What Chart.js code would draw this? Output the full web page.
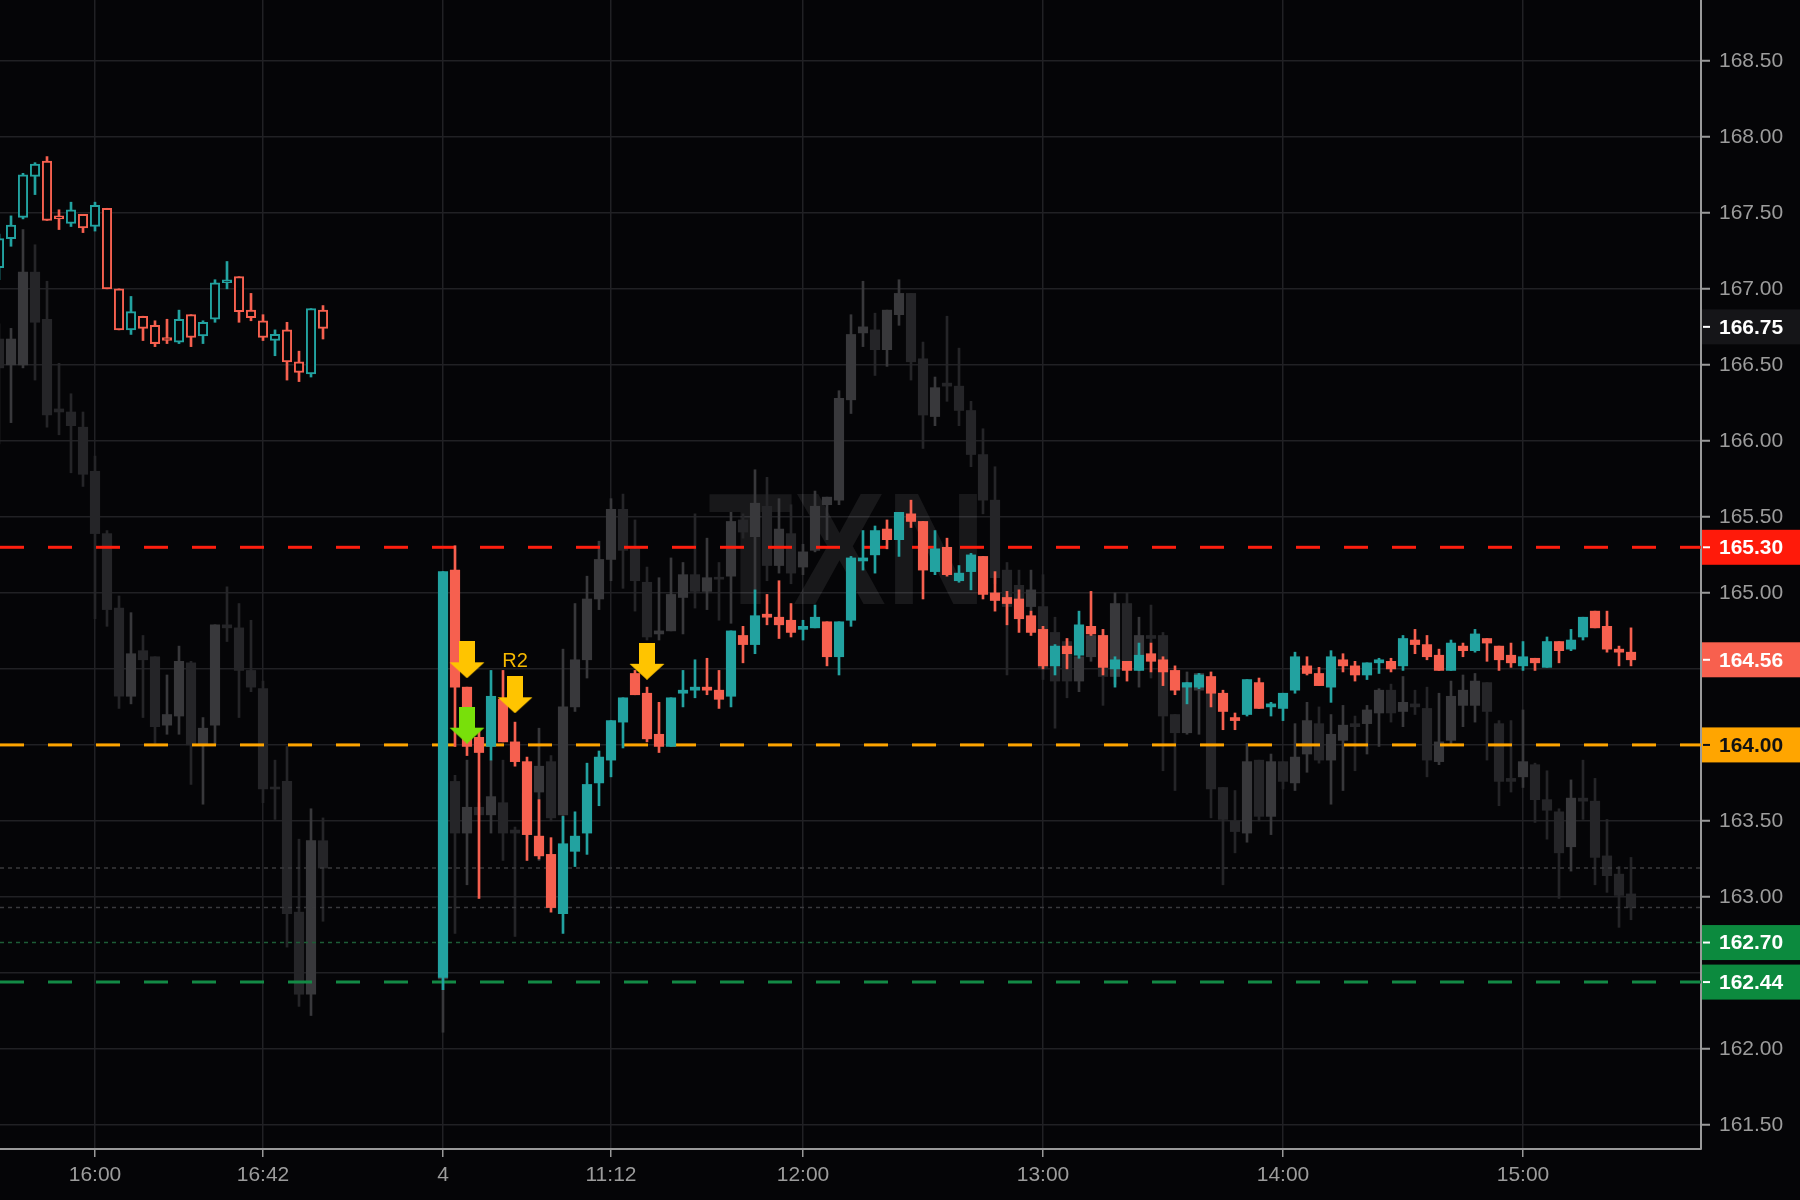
<!DOCTYPE html>
<html>
<head>
<meta charset="utf-8">
<title>TXN 3m</title>
<script src="https://cdn.jsdelivr.net/npm/chart.js@4.4.1/dist/chart.umd.min.js"></script>
<style>
  html, body { margin: 0; padding: 0; background: #050507; }
  #wrap { width: 1800px; height: 1200px; }
</style>
</head>
<body>
<div id="wrap"><canvas id="priceChart" width="1800" height="1200"></canvas></div>
<script>
// 3-minute bars, one slot per bar; null = no bar in that slot
const cOpen = [
  167.14, 167.33, 167.47, 167.74, 167.84, 167.48, 167.43, 167.49, 167.41, 167.53,
  167.00, 166.73, 166.82, 166.76, 166.68, 166.65, 166.83, 166.69, 166.80, 167.04,
  167.08, 166.86, 166.79, 166.66, 166.73, 166.52, 166.44, 166.86,
  null, null, null, null, null, null, null, null, null,
  162.47, 165.15, 164.38, 164.05, 163.99, 164.30, 164.02, 163.89, 163.40, 163.28,
  162.89, 163.30, 163.42, 163.75, 163.90, 164.15, 164.47, 164.34, 164.07, 163.99,
  164.34, 164.36, 164.38, 164.36, 164.32, 164.72, 164.66, 164.86, 164.84, 164.82,
  164.76, 164.77, 164.81, 164.58, 164.82, 165.21, 165.25, 165.42, 165.35, 165.52,
  165.47, 165.14, 165.30, 165.08, 165.14, 165.24, 165.00, 164.97, 164.96, 164.85,
  164.76, 164.52, 164.65, 164.59, 164.78, 164.72, 164.50, 164.55, 164.49, 164.60,
  164.56, 164.49, 164.38, 164.38, 164.45, 164.34, 164.18, 164.20, 164.41, 164.25,
  164.24, 164.36, 164.52, 164.47, 164.38, 164.56, 164.52, 164.46, 164.54, 164.55,
  164.52, 164.69, 164.66, 164.59, 164.49, 164.65, 164.62, 164.70, 164.65, 164.59,
  164.52, 164.57, 164.51, 164.68, 164.63, 164.71, 164.88, 164.78, 164.63, 164.61
];
const cHigh = [
  167.36, 167.48, 167.76, 167.83, 167.87, 167.52, 167.57, 167.49, 167.57, 167.53,
  167.00, 166.95, 166.82, 166.79, 166.80, 166.86, 166.83, 166.79, 167.06, 167.18,
  167.08, 166.97, 166.83, 166.73, 166.78, 166.59, 166.87, 166.89,
  null, null, null, null, null, null, null, null, null,
  165.14, 165.31, 164.38, 164.10, 164.49, 164.49, 164.15, 163.92, 163.64, 163.39,
  163.53, 163.56, 163.88, 163.96, 164.16, 164.31, 164.49, 164.38, 164.28, 164.31,
  164.49, 164.56, 164.57, 164.49, 164.75, 164.78, 165.02, 164.99, 165.08, 164.93,
  164.82, 164.92, 164.81, 164.81, 165.24, 165.41, 165.44, 165.48, 165.53, 165.61,
  165.47, 165.41, 165.36, 165.18, 165.26, 165.24, 165.14, 165.01, 165.02, 164.88,
  164.78, 164.66, 164.70, 164.88, 165.01, 164.76, 164.58, 164.55, 164.67, 164.67,
  164.58, 164.52, 164.41, 164.47, 164.48, 164.36, 164.21, 164.43, 164.44, 164.28,
  164.34, 164.61, 164.58, 164.51, 164.62, 164.60, 164.55, 164.54, 164.57, 164.57,
  164.72, 164.76, 164.72, 164.63, 164.69, 164.67, 164.76, 164.70, 164.65, 164.67,
  164.68, 164.57, 164.71, 164.68, 164.76, 164.84, 164.88, 164.88, 164.65, 164.77
];
const cLow = [
  167.06, 167.28, 167.46, 167.62, 167.45, 167.39, 167.41, 167.37, 167.38, 167.00,
  166.73, 166.70, 166.66, 166.62, 166.64, 166.64, 166.62, 166.64, 166.78, 167.00,
  166.78, 166.79, 166.66, 166.56, 166.40, 166.39, 166.42, 166.67,
  null, null, null, null, null, null, null, null, null,
  162.39, 163.99, 163.93, 162.99, 163.90, 164.02, 163.86, 163.24, 163.25, 162.90,
  162.76, 163.20, 163.28, 163.60, 163.79, 163.98, 164.33, 164.02, 163.95, 163.99,
  164.25, 164.31, 164.33, 164.24, 164.25, 164.54, 164.60, 164.79, 164.70, 164.71,
  164.69, 164.77, 164.52, 164.46, 164.78, 165.15, 165.13, 165.29, 165.24, 165.43,
  164.96, 165.12, 165.11, 165.07, 165.02, 164.96, 164.88, 164.79, 164.74, 164.72,
  164.50, 164.46, 164.50, 164.57, 164.72, 164.46, 164.38, 164.42, 164.49, 164.48,
  164.39, 164.33, 164.27, 164.37, 164.25, 164.10, 164.10, 164.19, 164.24, 164.19,
  164.16, 164.34, 164.46, 164.39, 164.28, 164.48, 164.42, 164.43, 164.47, 164.48,
  164.49, 164.60, 164.56, 164.49, 164.49, 164.58, 164.61, 164.55, 164.49, 164.51,
  164.49, 164.49, 164.51, 164.54, 164.62, 164.69, 164.77, 164.61, 164.52, 164.52
];
const cClose = [
  167.33, 167.42, 167.75, 167.82, 167.45, 167.46, 167.52, 167.40, 167.55, 167.00,
  166.73, 166.85, 166.74, 166.64, 166.66, 166.80, 166.68, 166.78, 167.04, 167.06,
  166.85, 166.81, 166.68, 166.70, 166.52, 166.45, 166.87, 166.74,
  null, null, null, null, null, null, null, null, null,
  165.14, 164.38, 163.99, 163.95, 164.32, 164.02, 163.89, 163.41, 163.27, 162.93,
  163.35, 163.40, 163.74, 163.92, 164.16, 164.31, 164.33, 164.04, 163.99, 164.31,
  164.36, 164.38, 164.36, 164.30, 164.75, 164.66, 164.85, 164.84, 164.79, 164.74,
  164.78, 164.84, 164.58, 164.81, 165.23, 165.23, 165.41, 165.35, 165.53, 165.47,
  165.15, 165.29, 165.12, 165.13, 165.25, 164.99, 164.95, 164.93, 164.83, 164.74,
  164.52, 164.65, 164.60, 164.79, 164.73, 164.51, 164.56, 164.49, 164.59, 164.55,
  164.48, 164.36, 164.41, 164.46, 164.34, 164.22, 164.16, 164.43, 164.24, 164.27,
  164.34, 164.58, 164.47, 164.39, 164.58, 164.52, 164.46, 164.54, 164.56, 164.50,
  164.70, 164.66, 164.58, 164.49, 164.67, 164.62, 164.73, 164.67, 164.56, 164.54,
  164.58, 164.54, 164.68, 164.62, 164.69, 164.84, 164.77, 164.63, 164.61, 164.56
];

// faded overlay series (grey candles behind)
const gOpen = [
  166.67, 166.50, 166.50, 167.11, 166.80, 166.21, 166.19, 166.09, 165.80, 165.39,
  164.90, 164.32, 164.62, 164.58, 164.13, 164.19, 164.54, 164.00, 164.13, 164.79,
  164.77, 164.49, 164.37, 163.72, 163.76, 162.90, 162.36, 163.37,
  null, null, null, null, null, null, null, null, null,
  162.46, 163.76, 163.42, 163.59, 163.54, 163.62, 163.44, 163.41, 163.69, 163.89,
  163.54, 164.25, 164.56, 164.96, 165.22, 165.55, 165.29, 165.07, 164.73, 164.75,
  164.97, 165.12, 165.01, 165.10, 165.11, 165.48, 165.37, 165.57, 165.18, 165.39,
  165.17, 165.28, 165.58, 165.61, 166.27, 166.71, 166.73, 166.60, 166.83, 166.97,
  166.54, 166.16, 166.38, 166.36, 166.20, 165.91, 165.61, 165.15, 165.05, 164.91,
  164.91, 164.74, 164.68, 164.42, 164.58, 164.72, 164.45, 164.93, 164.55, 164.72,
  164.72, 164.20, 164.08, 164.36, 164.34, 163.72, 163.50, 163.42, 163.90, 163.53,
  163.89, 163.75, 163.94, 164.14, 163.90, 164.03, 164.14, 164.14, 164.21, 164.36,
  164.22, 164.27, 164.24, 163.89, 164.03, 164.26, 164.26, 164.41, 164.14, 163.78,
  163.79, 163.87, 163.64, 163.56, 163.33, 163.65, 163.63, 163.27, 163.15, 163.02
];
const gHigh = [
  166.77, 166.74, 167.39, 167.29, 167.05, 166.51, 166.31, 166.19, 165.90, 165.41,
  164.98, 164.87, 164.72, 164.58, 164.46, 164.65, 164.55, 164.18, 164.79, 165.04,
  164.93, 164.82, 164.42, 163.90, 163.99, 163.38, 163.58, 163.52,
  null, null, null, null, null, null, null, null, null,
  163.75, 163.80, 163.90, 163.62, 163.90, 163.90, 163.46, 163.72, 164.11, 163.93,
  164.63, 164.93, 165.11, 165.34, 165.62, 165.65, 165.48, 165.17, 165.10, 165.23,
  165.20, 165.52, 165.36, 165.20, 165.53, 165.52, 165.81, 165.76, 165.62, 165.58,
  165.32, 165.67, 165.63, 166.33, 166.83, 167.05, 166.84, 166.86, 167.06, 166.97,
  166.65, 166.42, 166.82, 166.61, 166.26, 166.08, 165.83, 165.20, 165.15, 165.15,
  165.12, 164.84, 164.70, 164.60, 164.76, 164.76, 165.00, 165.00, 164.84, 164.92,
  164.74, 164.20, 164.48, 164.47, 164.34, 163.72, 163.70, 164.01, 163.90, 163.94,
  163.89, 164.14, 164.28, 164.25, 164.20, 164.26, 164.19, 164.26, 164.37, 164.40,
  164.45, 164.36, 164.38, 164.34, 164.42, 164.46, 164.47, 164.41, 164.16, 164.16,
  164.23, 163.88, 163.83, 163.58, 163.77, 163.90, 163.78, 163.51, 163.20, 163.26
];
const gLow = [
  165.98, 166.12, 166.48, 166.40, 166.09, 166.04, 165.79, 165.70, 164.83, 164.78,
  164.24, 164.27, 164.18, 164.01, 164.07, 164.07, 163.74, 163.61, 164.00, 164.68,
  164.18, 164.35, 163.62, 163.51, 162.67, 162.28, 162.22, 162.84,
  null, null, null, null, null, null, null, null, null,
  162.11, 162.76, 163.08, 163.50, 163.42, 163.24, 162.74, 163.38, 163.24, 163.50,
  163.35, 164.22, 164.44, 164.89, 165.08, 165.03, 164.88, 164.69, 164.69, 164.75,
  164.73, 164.90, 164.89, 164.82, 164.80, 165.36, 165.00, 165.08, 165.13, 165.06,
  165.12, 165.27, 165.35, 165.58, 166.18, 166.62, 166.43, 166.49, 166.76, 166.40,
  165.95, 166.10, 166.26, 166.10, 165.83, 165.52, 165.06, 164.46, 164.80, 164.84,
  164.43, 164.11, 164.31, 164.35, 164.55, 164.26, 164.40, 164.50, 164.38, 164.44,
  163.83, 163.70, 164.07, 164.07, 163.52, 163.08, 163.29, 163.36, 163.50, 163.41,
  163.71, 163.70, 163.82, 163.88, 163.61, 163.70, 163.83, 163.94, 163.99, 164.15,
  164.12, 164.20, 163.79, 163.87, 164.00, 164.12, 164.15, 163.90, 163.60, 163.69,
  163.72, 163.49, 163.38, 162.99, 163.17, 163.51, 163.08, 163.03, 162.80, 162.85
];
const gClose = [
  166.48, 166.67, 167.11, 166.78, 166.17, 166.19, 166.10, 165.78, 165.39, 164.89,
  164.32, 164.60, 164.56, 164.12, 164.20, 164.55, 164.00, 164.11, 164.79, 164.77,
  164.49, 164.38, 163.71, 163.71, 162.89, 162.36, 163.37, 163.19,
  null, null, null, null, null, null, null, null, null,
  163.75, 163.42, 163.59, 163.54, 163.66, 163.42, 163.42, 163.68, 163.86, 163.52,
  164.25, 164.56, 164.96, 165.22, 165.55, 165.28, 165.08, 164.71, 164.75, 164.99,
  165.12, 165.01, 165.10, 165.09, 165.47, 165.40, 165.59, 165.18, 165.42, 165.13,
  165.27, 165.57, 165.63, 166.28, 166.70, 166.75, 166.60, 166.86, 166.97, 166.52,
  166.17, 166.35, 166.36, 166.20, 165.91, 165.61, 165.10, 164.91, 164.90, 165.02,
  164.50, 164.42, 164.42, 164.58, 164.72, 164.45, 164.93, 164.55, 164.72, 164.70,
  164.19, 164.08, 164.40, 164.47, 163.71, 163.51, 163.43, 163.89, 163.53, 163.89,
  163.76, 163.92, 164.16, 163.90, 164.07, 164.13, 164.12, 164.23, 164.36, 164.21,
  164.28, 164.25, 163.90, 164.02, 164.32, 164.36, 164.42, 164.22, 163.76, 163.76,
  163.89, 163.64, 163.57, 163.29, 163.65, 163.63, 163.26, 163.14, 163.01, 162.93
];

const prevDayLast = 27;             // last bar of the previous session (hollow candles)

const xTickIdx = [8, 22, 37, 51, 67, 87, 107, 127];
const xTickText = ['16:00', '16:42', '4', '11:12', '12:00', '13:00', '14:00', '15:00'];
const yTickVals = [161.5, 162, 162.5, 163, 163.5, 164, 164.5, 165, 165.5, 166, 166.5, 167, 167.5, 168, 168.5];

const dashLevels = [165.30, 164.00, 162.44];
const dotLevels = [163.19, 162.93, 162.70];
const tagPrices = [166.75, 165.30, 164.56, 164.00, 162.70, 162.44];

const arrowIdx = [39, 43, 54];
const arrowPrice = [164.56, 164.33, 164.55];
const greenArrowIdx = [39];
const greenArrowPrice = [164.13];
const r2Idx = 43;
const r2Price = 164.55;

// axis window
const xMin = 1 / 12, xMax = 1702 / 12;
const yMin = 161.342, yMax = 168.9;

// ---- styles ----
const BG = '#050507';
const UP = '#22a2a0', DOWN = '#f6604f';
const GHOST_UP = '#38383b', GHOST_DOWN = '#252528';
const GRID = '#212124', AXIS = '#9a9a9a', TEXT = '#9c9c9c';
const FONT = '"Liberation Sans", Arial, sans-serif';
const dashColors = ['#ff1f0f', '#ffa500', '#138a45'];
const dotColors = ['#3a3a3d', '#3a3a3d', '#1d5c36'];
const tagBg = ['#151518', '#ff1a0a', '#f8604e', '#ffa500', '#0c8a3e', '#0c8a3e'];
const tagFg = ['#ffffff', '#ffffff', '#ffffff', '#121212', '#ffffff', '#ffffff'];

function build(open, high, low, close) {
  const bodies = [], wicks = [];
  open.forEach((o, i) => {
    if (o === null) return;
    const up = close[i] >= o;
    bodies.push({ x: i, y: [o, close[i]], up });
    wicks.push({ x: i, y: [low[i], high[i]], up });
  });
  return { bodies, wicks };
}

function makeArrow(color) {
  const c = document.createElement('canvas');
  c.width = 36; c.height = 37;
  const g = c.getContext('2d');
  g.fillStyle = color;
  g.beginPath();
  g.moveTo(10, 0); g.lineTo(26, 0); g.lineTo(26, 21); g.lineTo(35.5, 21);
  g.lineTo(18, 37); g.lineTo(0.5, 21); g.lineTo(10, 21);
  g.closePath();
  g.fill();
  return c;
}

const ghost = build(gOpen, gHigh, gLow, gClose);
const today = build(cOpen, cHigh, cLow, cClose);
const pick = (a, b) => ctx => (ctx.raw && ctx.raw.up) ? a : b;
const isHollow = ctx => !!ctx.raw && ctx.raw.x <= prevDayLast;

const levelSets = [];
dashLevels.forEach((v, k) => levelSets.push({
  type: 'line', data: [{ x: xMin, y: v }, { x: xMax, y: v }],
  borderColor: dashColors[k], borderWidth: 3, borderDash: [24, 24],
  pointRadius: 0, fill: false, order: 4
}));
dotLevels.forEach((v, k) => levelSets.push({
  type: 'line', data: [{ x: xMin, y: v }, { x: xMax, y: v }],
  borderColor: dotColors[k], borderWidth: 1.5, borderDash: [4, 4],
  pointRadius: 0, fill: false, order: 4
}));

const bgPlugin = {
  id: 'bg',
  beforeDraw(chart) {
    const c = chart.ctx;
    c.save();
    c.fillStyle = BG;
    c.fillRect(0, 0, chart.width, chart.height);
    c.restore();
  }
};

const watermark = {
  id: 'watermark',
  beforeDatasetsDraw(chart) {
    const { ctx, chartArea } = chart;
    ctx.save();
    ctx.fillStyle = 'rgba(255,255,255,0.08)';
    ctx.font = 'bold 160px ' + FONT;
    ctx.textAlign = 'center';
    ctx.textBaseline = 'middle';
    ctx.translate(chartArea.left + chartArea.width * 0.498, chartArea.top + chartArea.height * 0.487);
    ctx.scale(0.87, 1);
    ctx.fillText('TXN', 0, 0);
    ctx.restore();
  }
};

const r2Label = {
  id: 'r2',
  afterDatasetsDraw(chart) {
    const { ctx, scales } = chart;
    ctx.save();
    ctx.fillStyle = '#f6b900';
    ctx.font = '20px ' + FONT;
    ctx.textAlign = 'center';
    ctx.textBaseline = 'middle';
    ctx.fillText('R2', scales.x.getPixelForValue(r2Idx), scales.y.getPixelForValue(r2Price));
    ctx.restore();
  }
};

const priceTags = {
  id: 'tags',
  afterDraw(chart) {
    const { ctx, chartArea, scales } = chart;
    ctx.save();
    ctx.font = 'bold 21px ' + FONT;
    ctx.textAlign = 'left';
    ctx.textBaseline = 'middle';
    tagPrices.forEach((p, k) => {
      const py = scales.y.getPixelForValue(p);
      ctx.fillStyle = tagBg[k];
      ctx.fillRect(chartArea.right + 1, py - 17.5, chart.width - chartArea.right - 1, 35);
      ctx.fillStyle = tagFg[k];
      ctx.fillRect(chartArea.right + 2, py - 1, 7, 2);
      ctx.fillText(p.toFixed(2), chartArea.right + 18, py + 1);
    });
    ctx.restore();
  }
};

// no extra room for edge labels: plot must fill the canvas up to the axes
const noPad = s => { s.paddingLeft = 0; s.paddingRight = 0; s.paddingTop = 0; s.paddingBottom = 0; };

const config = {
  type: 'bar',
  data: {
    datasets: [
      { data: ghost.wicks, backgroundColor: pick(GHOST_UP, GHOST_DOWN), barThickness: 2,
        grouped: false, minBarLength: 1, order: 6 },
      { data: ghost.bodies, backgroundColor: pick(GHOST_UP, GHOST_DOWN), barThickness: 9.5,
        grouped: false, minBarLength: 2, order: 5 },
      ...levelSets,
      { data: today.wicks, backgroundColor: pick(UP, DOWN), barThickness: 2,
        grouped: false, minBarLength: 1, order: 2 },
      { data: today.bodies,
        backgroundColor: ctx => isHollow(ctx) ? BG : pick(UP, DOWN)(ctx),
        borderColor: pick(UP, DOWN),
        borderWidth: ctx => isHollow(ctx) ? 2 : 0,
        borderSkipped: false, barThickness: 9.5, grouped: false, minBarLength: 2, order: 1 },
      { type: 'line', showLine: false, order: 0,
        data: arrowIdx.map((x, k) => ({ x, y: arrowPrice[k] })),
        pointStyle: makeArrow('#ffc400'), pointRadius: 18 },
      { type: 'line', showLine: false, order: 0,
        data: greenArrowIdx.map((x, k) => ({ x, y: greenArrowPrice[k] })),
        pointStyle: makeArrow('#78e00a'), pointRadius: 18 }
    ]
  },
  options: {
    responsive: false,
    animation: false,
    devicePixelRatio: 1,
    events: [],
    layout: { padding: 0, autoPadding: false },
    plugins: {
      legend: { display: false },
      tooltip: { enabled: false },
      title: { display: false }
    },
    scales: {
      x: {
        type: 'linear', min: xMin, max: xMax, bounds: 'data', offset: false,
        grid: { color: GRID, lineWidth: 1.5, offset: false, tickLength: 8, tickColor: AXIS, tickWidth: 1.5 },
        border: { display: true, color: AXIS, width: 2 },
        ticks: {
          autoSkip: false, maxRotation: 0, minRotation: 0, padding: 6, color: TEXT,
          font: { family: FONT, size: 21 },
          callback: (v, i) => xTickText[i] ?? ''
        },
        afterBuildTicks: s => { s.ticks = xTickIdx.map(v => ({ value: v })); },
        afterFit: s => { s.height = 51; noPad(s); }
      },
      y: {
        type: 'linear', position: 'right', min: yMin, max: yMax, bounds: 'data',
        grid: { color: GRID, lineWidth: 1.5, tickLength: 9, tickColor: AXIS, tickWidth: 2 },
        border: { display: true, color: AXIS, width: 2 },
        ticks: {
          padding: 9, color: TEXT, font: { family: FONT, size: 21 },
          callback: v => Number(v).toFixed(2)
        },
        afterBuildTicks: s => { s.ticks = yTickVals.map(v => ({ value: v })); },
        afterFit: s => { s.width = 99; noPad(s); }
      }
    }
  },
  plugins: [bgPlugin, watermark, r2Label, priceTags]
};

const priceChart = new Chart(document.getElementById('priceChart'), config);
</script>
</body>
</html>
